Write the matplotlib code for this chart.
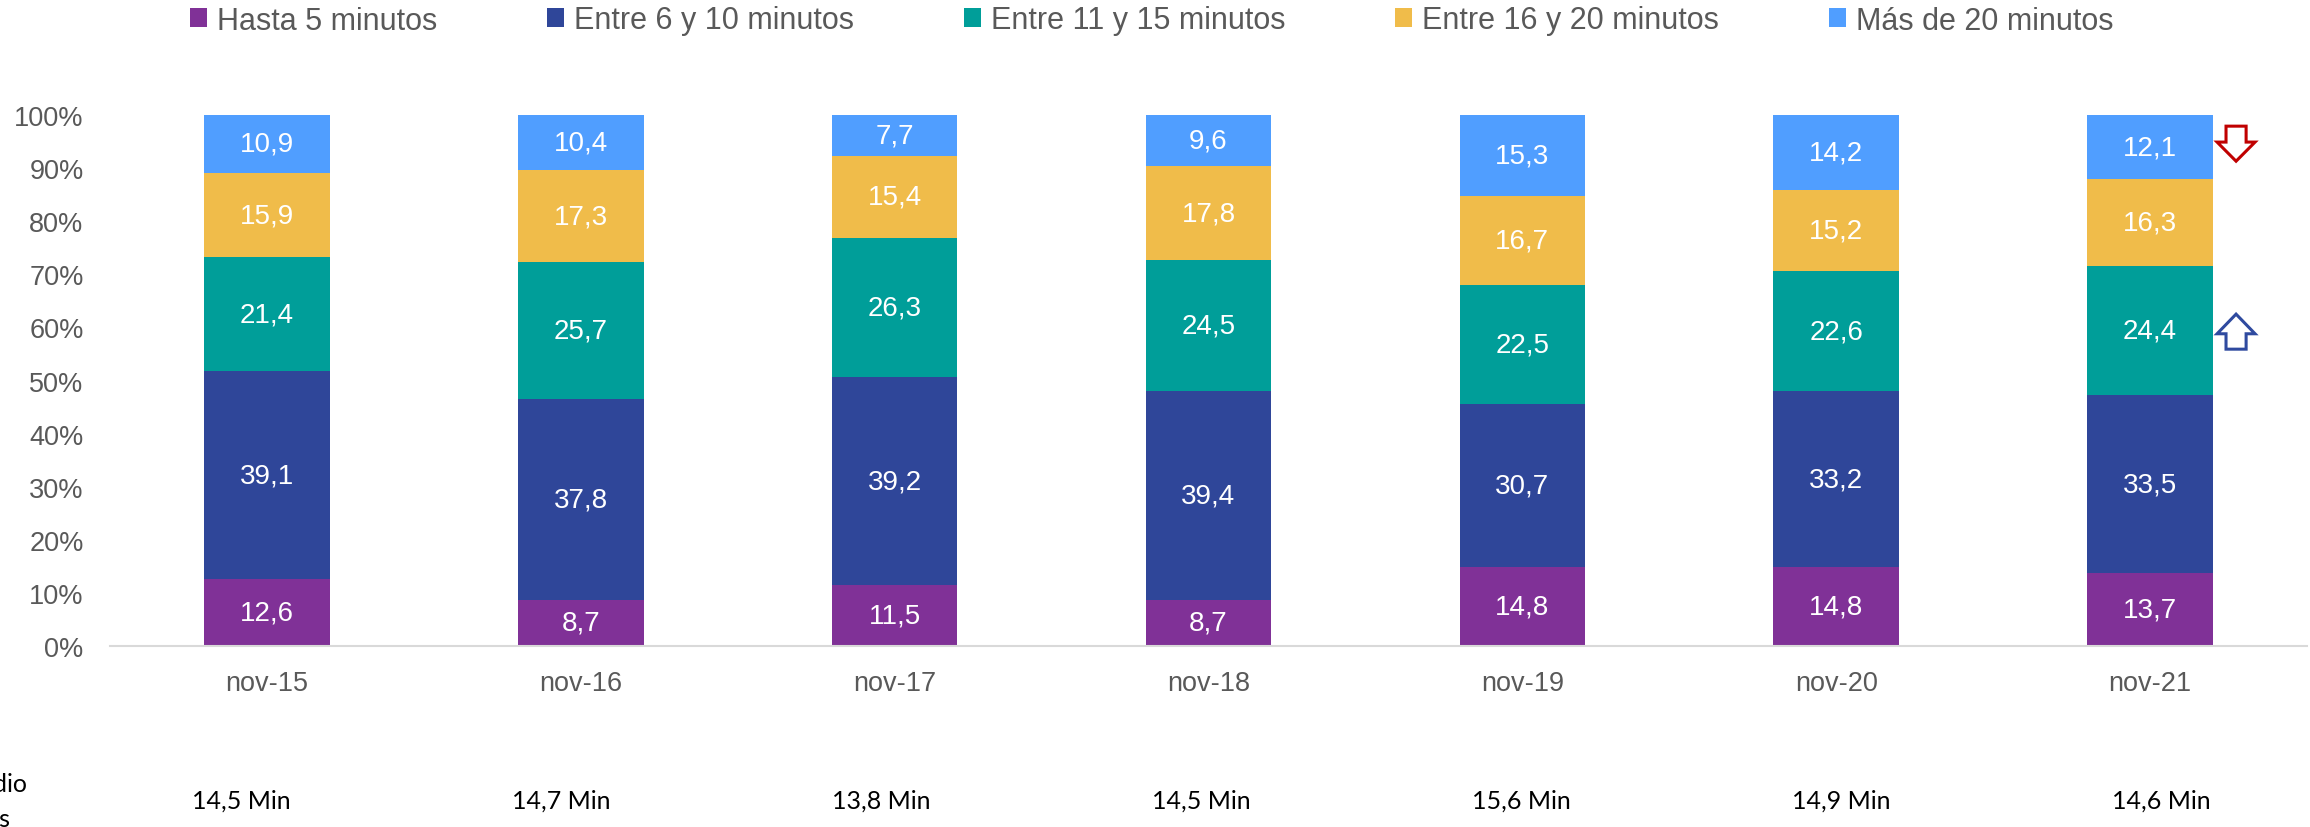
import matplotlib
matplotlib.use("Agg")
import matplotlib.pyplot as plt
import numpy as np
from matplotlib.patches import Patch, Polygon

# data
months = ["nov-15", "nov-16", "nov-17", "nov-18", "nov-19", "nov-20", "nov-21"]
series = ["Hasta 5 minutos", "Entre 6 y 10 minutos", "Entre 11 y 15 minutos",
          "Entre 16 y 20 minutos", "Más de 20 minutos"]
hasta_5 = [12.6, 8.7, 11.5, 8.7, 14.8, 14.8, 13.7]
entre_6_10 = [39.1, 37.8, 39.2, 39.4, 30.7, 33.2, 33.5]
entre_11_15 = [21.4, 25.7, 26.3, 24.5, 22.5, 22.6, 24.4]
entre_16_20 = [15.9, 17.3, 15.4, 17.8, 16.7, 15.2, 16.3]
mas_20 = [10.9, 10.4, 7.7, 9.6, 15.3, 14.2, 12.1]
promedio = ["14,5 Min", "14,7 Min", "13,8 Min", "14,5 Min", "15,6 Min", "14,9 Min", "14,6 Min"]

colors = ["#803197", "#2F4699", "#009E99", "#F0BC4A", "#509EFF"]
GRAY = "#595959"

plt.rcParams["font.family"] = ["Liberation Sans", "DejaVu Sans"]

W, H = 2310, 828
fig = plt.figure(figsize=(W / 100, H / 100), dpi=100)
ax = fig.add_axes([110 / W, (H - 647) / H, (2307 - 110) / W, (647 - 116) / H])

vals = np.array([hasta_5, entre_6_10, entre_11_15, entre_16_20, mas_20])
pct = vals / vals.sum(axis=0) * 100  # 100% stacked
x = np.arange(len(months))
bottom = np.zeros(len(months))
for i, name in enumerate(series):
    ax.bar(x, pct[i], 0.40, bottom=bottom, color=colors[i], label=name, linewidth=0)
    for xi, b, h, v in zip(x, bottom, pct[i], vals[i]):
        ax.text(xi, b + h / 2, f"{v:.1f}".replace(".", ","), ha="center", va="center",
                color="white", fontsize=20)
    bottom += pct[i]

ax.set_xlim(-0.5, len(months) - 0.5)
ax.set_ylim(0, 100)
ax.set_yticks(np.arange(0, 101, 10))
ax.set_yticklabels([f"{t}%" for t in range(0, 101, 10)])
ax.set_xticks(x)
ax.set_xticklabels(months)
ax.tick_params(axis="y", length=0, pad=19, labelsize=19.5, labelcolor=GRAY)
ax.tick_params(axis="x", length=0, pad=17, labelsize=19.5, labelcolor=GRAY)
for s in ["top", "right", "left"]:
    ax.spines[s].set_visible(False)
ax.spines["bottom"].set_color("#D9D9D9")
ax.spines["bottom"].set_linewidth(1.5)


def block_arrow(xc, y_tail, y_tip, y_head, color):
    hw, sw = 0.0605, 0.032
    pts = [(xc - sw, y_tail), (xc + sw, y_tail), (xc + sw, y_head), (xc + hw, y_head),
           (xc, y_tip), (xc - hw, y_head), (xc - sw, y_head)]
    ax.add_patch(Polygon(pts, closed=True, facecolor="white", edgecolor=color,
                         linewidth=2.2, clip_on=False, joinstyle="miter"))


last = len(months) - 1
block_arrow(last + 0.274, 97.9, 91.3, 94.9, "#C00000")
block_arrow(last + 0.274, 55.9, 62.5, 58.8, "#2F4A9F")

handles = [Patch(facecolor=c, edgecolor="none") for c in colors]
fig.legend(handles, series, loc="center left", bbox_to_anchor=(190 / W, 1 - 21.5 / H),
           ncol=5, frameon=False, fontsize=22, handlelength=0.55, handleheight=0.55,
           handletextpad=0.33, columnspacing=3.6, labelcolor=GRAY, borderaxespad=0,
           borderpad=0)

# promedio row below the chart (label is cut off at the left edge, as in the source)
for i, txt in enumerate(promedio):
    fig.text((241 + 320 * i) / W, 1 - 801 / H, txt, ha="center", va="center",
             fontsize=18, family="Lato", color="black")
fig.text(28 / W, 1 - 785 / H, "Promedio", ha="right", va="center", fontsize=18,
         family="Lato", color="black")
fig.text(10 / W, 1 - 820 / H, "minutos", ha="right", va="center", fontsize=18,
         family="Lato", color="black")

fig.savefig("out.png", dpi=100)
